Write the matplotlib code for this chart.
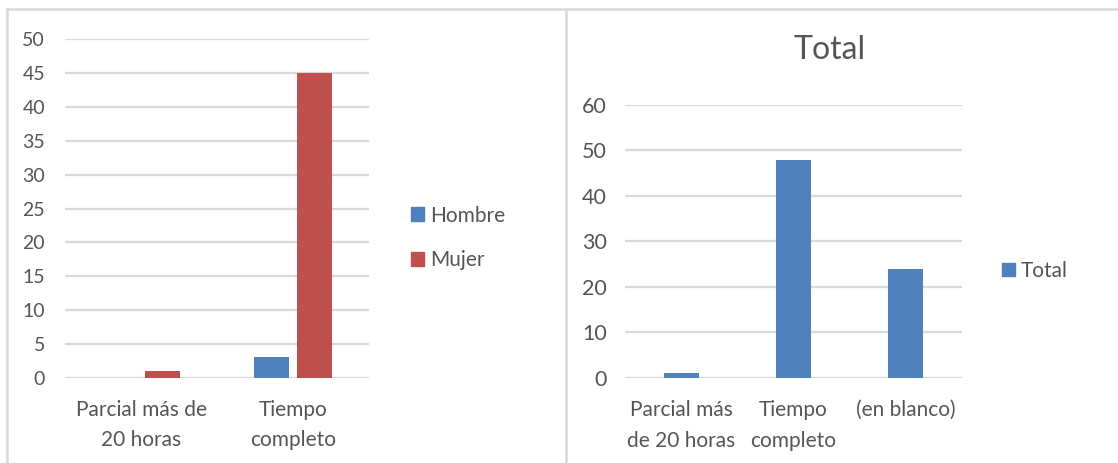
import matplotlib
matplotlib.use("Agg")
import matplotlib.pyplot as plt
import numpy as np
from matplotlib.patches import Patch
from matplotlib.lines import Line2D

# Data
left_categories = ["Parcial más de\n20 horas", "Tiempo\ncompleto"]
hombre = [0, 3]
mujer = [1, 45]
right_categories = ["Parcial más\nde 20 horas", "Tiempo\ncompleto", "(en blanco)"]
total = [1, 48, 24]
left_ticks = [0, 5, 10, 15, 20, 25, 30, 35, 40, 45, 50]
right_ticks = [0, 10, 20, 30, 40, 50, 60]

BLUE = "#4f81bd"
RED = "#c0504d"
TEXT = "#555555"
GRID = "#d9d9d9"

plt.rcParams["font.family"] = ["Lato", "DejaVu Sans"]

W, H = 1118, 463
PT = 72 / 100  # points per pixel at 100 dpi
fig = plt.figure(figsize=(W / 100, H / 100), dpi=100)


def px_axes(x0, x1, ytop, ybot):
    return fig.add_axes([x0 / W, 1 - ybot / H, (x1 - x0) / W, (ybot - ytop) / H])


def style(ax, ticks, ymax, ytick_size, pad_px):
    ax.set_ylim(0, ymax)
    ax.set_yticks(ticks)
    for s in ax.spines.values():
        s.set_visible(False)
    ax.tick_params(axis="both", length=0, colors=TEXT)
    ax.tick_params(axis="y", labelsize=ytick_size, pad=pad_px * PT)
    ax.yaxis.grid(True, color=GRID, linewidth=1.6)
    ax.set_axisbelow(True)


# Panel frames
fig.add_artist(Line2D([7 / W, 7 / W], [0, 1 - 9 / H], color=GRID, lw=1.8))
fig.add_artist(Line2D([566 / W, 566 / W], [0, 1 - 9 / H], color=GRID, lw=1.8))
fig.add_artist(Line2D([7 / W, 1], [1 - 9 / H, 1 - 9 / H], color=GRID, lw=1.8))

# Left chart: Hombre / Mujer
ax1 = px_axes(65, 369, 39.4, 377.7)
x = np.arange(len(left_categories))
bw = 0.225
off = 0.1415
ax1.bar(x - off, hombre, bw, color=BLUE)
ax1.bar(x + off, mujer, bw, color=RED)
ax1.set_xlim(-0.5, len(left_categories) - 0.5)
style(ax1, left_ticks, 50, 14, 20)
ax1.set_xticks(x)
ax1.set_xticklabels(left_categories, fontsize=15, linespacing=1.62)
ax1.tick_params(axis="x", pad=22 * PT)

fig.legend(handles=[Patch(color=BLUE, label="Hombre"), Patch(color=RED, label="Mujer")],
           loc="center left", bbox_to_anchor=(392 / W, 1 - 238 / H), frameon=False,
           fontsize=15, labelcolor=TEXT, handlelength=0.62, handleheight=0.62,
           handletextpad=0.3, labelspacing=1.2)

# Right chart: Total
ax2 = px_axes(625, 962, 105, 377.7)
x2 = np.arange(len(right_categories))
ax2.bar(x2, total, 0.31, color=BLUE)
ax2.set_xlim(-0.5, len(right_categories) - 0.5)
style(ax2, right_ticks, 60, 15.5, 18)
ax2.set_xticks(x2)
ax2.set_xticklabels(right_categories, fontsize=15, linespacing=1.72)
ax2.tick_params(axis="x", pad=22 * PT)
fig.text(830 / W, 1 - 50 / H, "Total", ha="center", va="center", fontsize=23, color=TEXT)

fig.legend(handles=[Patch(color=BLUE, label="Total")],
           loc="center left", bbox_to_anchor=(983 / W, 1 - 271 / H), frameon=False,
           fontsize=15, labelcolor=TEXT, handlelength=0.62, handleheight=0.62,
           handletextpad=0.3)

fig.savefig("out.png", dpi=100)
